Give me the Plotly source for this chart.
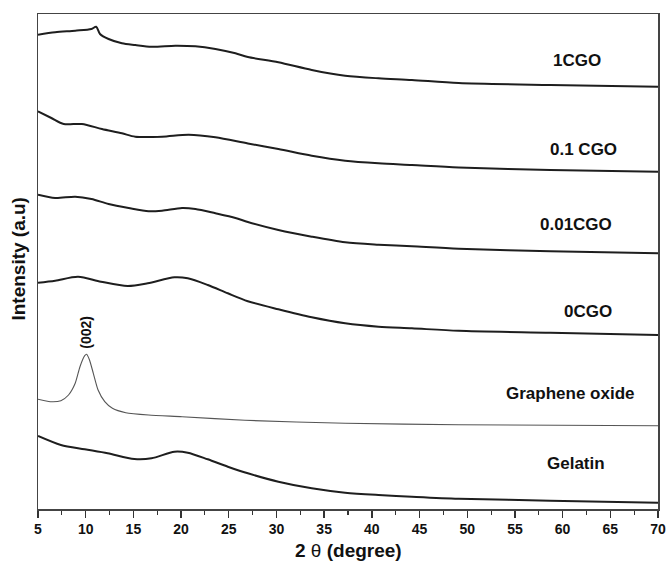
import plotly.graph_objects as go

# 2-theta positions (degree) and intensities (a.u.)
x_1cgo = [5.0, 6.8, 8.9, 10.6, 11.1, 11.5, 12.4, 13.8, 15.2, 16.9, 19.4, 21.5, 23.6, 25.7, 27.0, 30.2, 33.7, 37.2, 40.7, 44.2, 49.1, 58.7, 70.0]
y_1cgo = [474.3, 476.7, 478.3, 480.0, 482.3, 475.0, 470.0, 465.7, 464.0, 462.3, 463.3, 462.7, 460.0, 455.7, 452.0, 446.7, 439.0, 433.3, 430.7, 429.0, 426.0, 424.0, 422.3]

x_01cgo = [5.0, 6.4, 7.7, 9.6, 11.7, 13.8, 15.2, 18.0, 20.8, 23.6, 27.0, 30.2, 33.7, 37.2, 40.7, 44.2, 49.1, 58.7, 70.0]
y_01cgo = [397.7, 391.0, 385.0, 385.0, 380.0, 375.7, 372.3, 372.3, 374.3, 371.7, 365.5, 360.0, 353.3, 348.3, 345.7, 344.0, 341.5, 339.0, 337.3]

x_001cgo = [5.0, 6.8, 8.9, 10.6, 12.4, 14.5, 16.6, 18.0, 20.1, 21.5, 23.6, 25.7, 27.0, 30.2, 33.7, 37.2, 40.7, 44.2, 49.1, 58.7, 70.0]
y_001cgo = [314.3, 311.0, 312.3, 310.0, 305.0, 301.0, 297.7, 298.3, 301.0, 300.0, 295.7, 291.0, 287.0, 279.0, 272.3, 266.7, 264.3, 262.7, 260.3, 257.7, 255.7]

x_0cgo = [5.0, 6.8, 9.2, 11.6, 14.4, 16.5, 19.3, 20.7, 22.8, 24.9, 27.0, 30.2, 33.7, 37.2, 40.7, 44.2, 49.1, 58.7, 70.0]
y_0cgo = [226.3, 228.3, 232.3, 227.3, 223.0, 225.7, 231.7, 230.7, 224.0, 215.7, 207.8, 199.7, 191.7, 185.7, 182.3, 180.7, 178.2, 176.3, 174.0]

x_go = [5.0, 6.3, 7.4, 8.2, 8.9, 9.4, 9.9, 10.1, 10.4, 10.8, 11.3, 12.0, 12.8, 14.2, 16.6, 20.1, 26.7, 37.2, 49.1, 70.0]
y_go = [109.7, 107.3, 108.3, 114.0, 125.7, 142.3, 153.3, 154.7, 149.0, 135.7, 119.0, 107.3, 100.7, 96.3, 94.0, 92.3, 88.7, 85.7, 84.3, 83.3]

x_gel = [5.0, 7.4, 9.9, 12.3, 15.1, 16.9, 19.3, 20.7, 22.8, 24.9, 27.0, 30.2, 33.7, 37.2, 40.7, 44.2, 49.1, 58.7, 70.0]
y_gel = [73.0, 64.0, 59.7, 55.7, 50.0, 50.7, 57.3, 56.3, 49.7, 42.3, 35.7, 27.3, 20.7, 16.3, 14.0, 12.3, 10.3, 8.3, 6.3]

labels = ["1CGO", "0.1 CGO", "0.01CGO", "0CGO", "Graphene oxide", "Gelatin"]
label_x = [61.5, 62.2, 61.4, 62.7, 60.8, 61.4]
label_y = [448.3, 360.0, 284.3, 197.3, 115.7, 45.7]

peak_label = "(002)"
peak_x = 10.0
peak_y = 177.0

FONT = "Liberation Sans, Arial, Helvetica, sans-serif"

fig = go.Figure()
series = [
    (x_1cgo, y_1cgo, "#1e1e1e", 2.0, 0.8),
    (x_01cgo, y_01cgo, "#1e1e1e", 2.0, 0.8),
    (x_001cgo, y_001cgo, "#1e1e1e", 2.0, 0.8),
    (x_0cgo, y_0cgo, "#1e1e1e", 2.0, 0.8),
    (x_go, y_go, "#555555", 1.1, 0.6),
    (x_gel, y_gel, "#1e1e1e", 2.0, 0.8),
]
for (xs, ys, c, w, sm), name in zip(series, labels):
    fig.add_trace(go.Scatter(x=xs, y=ys, mode="lines", name=name,
                             line=dict(color=c, width=w, shape="spline", smoothing=sm),
                             showlegend=False, hoverinfo="skip"))

for t, lx, ly in zip(labels, label_x, label_y):
    fig.add_annotation(x=lx, y=ly, text="<b>%s</b>" % t, showarrow=False,
                       font=dict(family=FONT, size=17, color="#111111"))

fig.add_annotation(x=peak_x, y=peak_y, text="<b>%s</b>" % peak_label, showarrow=False,
                   textangle=-90, font=dict(family=FONT, size=14, color="#111111"))

# axis titles
fig.add_annotation(xref="paper", yref="paper", x=0.5, y=0, yshift=-41,
                   xanchor="center", yanchor="middle",
                   text="<b>2</b> θ <b>(degree)</b>", showarrow=False,
                   font=dict(family=FONT, size=19, color="#111111"))
fig.add_annotation(xref="paper", yref="paper", x=-0.033, y=0.505,
                   xanchor="center", yanchor="middle",
                   text="<b>Intensity (a.u)</b>", showarrow=False, textangle=-90,
                   font=dict(family=FONT, size=19, color="#111111"))

fig.update_layout(
    width=666, height=563,
    margin=dict(l=38, r=8, t=14, b=54, autoexpand=False),
    paper_bgcolor="white", plot_bgcolor="white",
    font=dict(family=FONT, color="#111111"),
    xaxis=dict(range=[5, 70], dtick=5, tick0=5, ticks="outside", ticklen=7, tickwidth=1.3,
               tickcolor="#333333", showline=True, linecolor="#444444", linewidth=1.5,
               mirror=True, showgrid=False, zeroline=False, automargin=False,
               tickfont=dict(family=FONT, size=14, color="#111111", weight="bold"),
               minor=dict(dtick=2.5, ticks="outside", ticklen=4, tickwidth=1.1, tickcolor="#333333")),
    yaxis=dict(range=[0, 495], showticklabels=False, ticks="", showline=True,
               linecolor="#444444", linewidth=1.5, mirror=True, showgrid=False, zeroline=False,
               automargin=False),
)

fig.write_html("out.html", config={"displayModeBar": False, "staticPlot": True},
               post_script="document.body.style.margin='0';document.body.style.overflow='hidden';")
